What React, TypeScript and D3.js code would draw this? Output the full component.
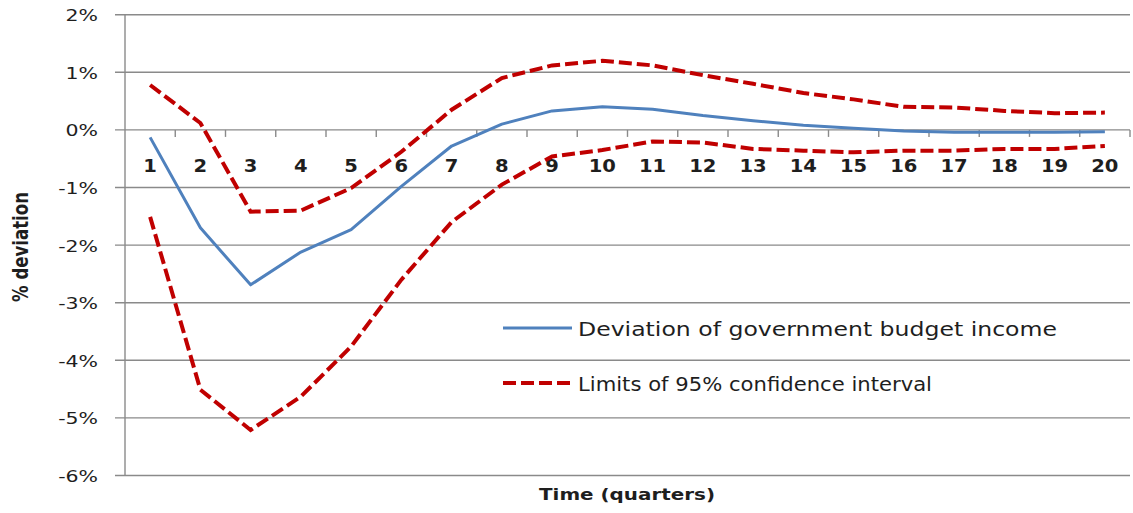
import React from "react";
import * as d3 from "d3";

const quarters = ["1","2","3","4","5","6","7","8","9","10","11","12","13","14","15","16","17","18","19","20"];
const deviation = [-0.13, -1.70, -2.69, -2.12, -1.73, -0.98, -0.28, 0.10, 0.33, 0.40, 0.36, 0.25, 0.16, 0.08, 0.03, -0.02, -0.04, -0.04, -0.04, -0.03];
const upperLimit = [0.78, 0.12, -1.42, -1.40, -1.01, -0.38, 0.35, 0.90, 1.12, 1.20, 1.12, 0.95, 0.80, 0.64, 0.53, 0.40, 0.39, 0.33, 0.29, 0.30];
const lowerLimit = [-1.51, -4.51, -5.21, -4.63, -3.76, -2.60, -1.60, -0.95, -0.46, -0.35, -0.20, -0.22, -0.33, -0.36, -0.39, -0.36, -0.36, -0.33, -0.33, -0.28];
const yTicks = [2, 1, 0, -1, -2, -3, -4, -5, -6];
const legendLabels = ["Deviation of government budget income", "Limits of 95% confidence interval"];
const xTitle = "Time (quarters)";
const yTitle = "% deviation";

const W = 1133, H = 513;
const left = 125, right = 1130, top = 14.7, bottom = 475.5;
const BLUE = "#4F81BD";
const RED = "#C00000";
const GRID = "#8a8a8a";
const TXT = "#1e1e1e";
const FONT = "'DejaVu Sans', sans-serif";

export default function App() {
  const x = d3.scaleBand<string>().domain(quarters).range([left, right]).padding(0);
  const cx = (q: string) => (x(q) as number) + x.bandwidth() / 2;
  const y = d3.scaleLinear().domain([-6, 2]).range([bottom, top]);
  const line = d3
    .line<number>()
    .x((_, i) => cx(quarters[i]))
    .y((d) => y(d))
    .curve(d3.curveLinear);

  const boundaries = quarters.map((q) => (x(q) as number) + x.bandwidth());
  const fmt = (t: number) => `${t}%`;

  return (
    <svg
      width={W}
      height={H}
      style={{ position: "absolute", left: 0, top: 0, display: "block", background: "#fff" }}
    >
      <rect x={0} y={0} width={W} height={H} fill="#fff" />
      {yTicks.map((t) => (
        <line key={"g" + t} x1={left - 10} x2={right} y1={y(t)} y2={y(t)} stroke={GRID} strokeWidth={1.4} />
      ))}
      <line x1={left} x2={left} y1={top} y2={bottom} stroke={GRID} strokeWidth={1.4} />
      {boundaries.map((b, i) => (
        <line key={"xt" + i} x1={b} x2={b} y1={y(0)} y2={y(0) + 7} stroke={GRID} strokeWidth={1.4} />
      ))}
      {yTicks.map((t) => (
        <text
          key={"yl" + t}
          transform={`translate(98,${y(t) + 6.5}) scale(1.28,1)`}
          textAnchor="end"
          fontFamily={FONT}
          fontSize={16}
          fill={TXT}
        >
          {fmt(t)}
        </text>
      ))}
      {quarters.map((q) => (
        <text
          key={"xl" + q}
          transform={`translate(${cx(q)},${y(0) + 42.5}) scale(1.15,1)`}
          textAnchor="middle"
          fontFamily={FONT}
          fontWeight="bold"
          fontSize={17}
          fill={TXT}
        >
          {q}
        </text>
      ))}
      <path d={line(upperLimit) || ""} fill="none" stroke={RED} strokeWidth={4} strokeDasharray="13 5" />
      <path d={line(lowerLimit) || ""} fill="none" stroke={RED} strokeWidth={4} strokeDasharray="13 5" />
      <path d={line(deviation) || ""} fill="none" stroke={BLUE} strokeWidth={3} strokeLinejoin="round" />
      <line x1={503} x2={572} y1={328} y2={328} stroke={BLUE} strokeWidth={3} />
      <text x={578} y={336} fontFamily={FONT} fontSize={19} fill={TXT} textLength={479} lengthAdjust="spacingAndGlyphs">
        {legendLabels[0]}
      </text>
      <line x1={503} x2={572} y1={383} y2={383} stroke={RED} strokeWidth={4} strokeDasharray="13 5" />
      <text x={578} y={391} fontFamily={FONT} fontSize={19} fill={TXT} textLength={354} lengthAdjust="spacingAndGlyphs">
        {legendLabels[1]}
      </text>
      <text
        x={539}
        y={500}
        fontFamily={FONT}
        fontWeight="bold"
        fontSize={16}
        fill={TXT}
        textLength={176}
        lengthAdjust="spacingAndGlyphs"
      >
        {xTitle}
      </text>
      <text
        transform={`translate(28,302) rotate(-90) scale(1,1.3)`}
        fontFamily={FONT}
        fontWeight="bold"
        fontSize={16}
        fill={TXT}
        textLength={110}
        lengthAdjust="spacingAndGlyphs"
      >
        {yTitle}
      </text>
    </svg>
  );
}
